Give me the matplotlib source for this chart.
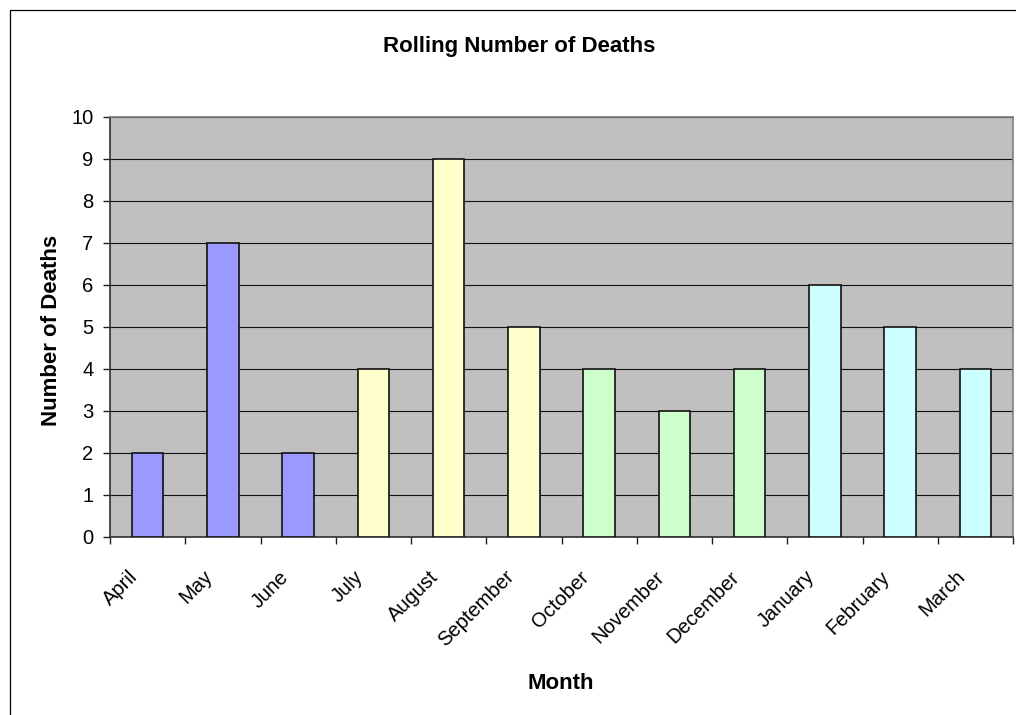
import matplotlib
matplotlib.use("Agg")
import matplotlib.pyplot as plt
from matplotlib.patches import Rectangle
from matplotlib.transforms import ScaledTranslation

months = ["April", "May", "June", "July", "August", "September",
          "October", "November", "December", "January", "February", "March"]
deaths = [2, 7, 2, 4, 9, 5, 4, 3, 4, 6, 5, 4]
colors = ["#9999FF"] * 3 + ["#FFFFCC"] * 3 + ["#CCFFCC"] * 3 + ["#CCFFFF"] * 3

plt.rcParams['font.family'] = ['Liberation Sans', 'DejaVu Sans']

W, H = 1016, 715
fig = plt.figure(figsize=(W / 100, H / 100), dpi=100)
fig.patch.set_facecolor("white")
# chart outer border
fig.add_artist(Rectangle((9.5 / W, -0.1), 1.2, (H - 9.5) / H + 0.1, transform=fig.transFigure,
                         fill=False, edgecolor="black", linewidth=0.9))

left, right, top, bottom = 110, 1013, 117, 537
ax = fig.add_axes([left / W, 1 - bottom / H, (right - left) / W, (bottom - top) / H])
ax.set_facecolor("#C0C0C0")

x = list(range(len(months)))
ax.bar(x, deaths, width=0.42, color=colors, edgecolor="#111111", linewidth=1.2, zorder=3)

ax.set_xlim(-0.5, len(months) - 0.5)
ax.set_ylim(0, 10)
ax.set_yticks(range(0, 11))
ax.yaxis.grid(True, color="#111111", linewidth=0.8, zorder=1)
ax.set_axisbelow(True)

ax.set_xticks([i + 0.5 for i in range(-1, len(months))], minor=True)
ax.set_xticks(x)
ax.set_xticklabels(months, rotation=45, ha="right", va="center",
                   rotation_mode="anchor", fontsize=14.5)
ax.tick_params(axis="x", which="major", length=0, pad=26.5)
ax.tick_params(axis="x", which="minor", length=5, color="#222222", width=1)
ax.tick_params(axis="y", length=5, color="#222222", width=1, labelsize=14.5, pad=7)
shift = ScaledTranslation(-13 / 100, 0, fig.dpi_scale_trans)
for lbl in ax.get_xticklabels():
    lbl.set_transform(lbl.get_transform() + shift)

for s in ["left", "bottom"]:
    ax.spines[s].set_color("#303030")
    ax.spines[s].set_linewidth(1.2)
for s in ["top", "right"]:
    ax.spines[s].set_color("#808080")
    ax.spines[s].set_linewidth(1.2)

fig.text(519 / W, 1 - 52 / H, "Rolling Number of Deaths", ha="center", va="baseline",
         fontsize=16, fontweight="bold")
fig.text(57 / W, 1 - 330 / H, "Number of Deaths", ha="center", va="baseline",
         rotation=90, rotation_mode="anchor", fontsize=16, fontweight="bold")
fig.text(561 / W, 1 - 689 / H, "Month", ha="center", va="baseline",
         fontsize=16, fontweight="bold")

fig.savefig("out.png", dpi=100)
